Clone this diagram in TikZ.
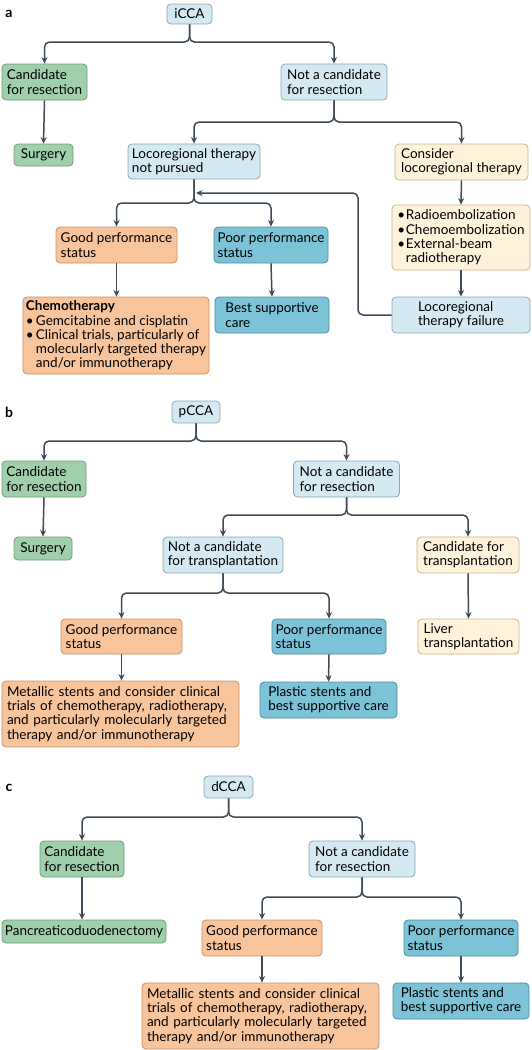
\documentclass[tikz,border=0pt]{standalone}
\usepackage{fontspec}
\setmainfont{Lato}
\usetikzlibrary{arrows.meta}
\definecolor{lbF}{HTML}{D4E9F1}\definecolor{lbD}{HTML}{8FA7B2}
\definecolor{grF}{HTML}{A0CFAB}\definecolor{grD}{HTML}{6F9C7A}
\definecolor{yeF}{HTML}{FEF2DA}\definecolor{yeD}{HTML}{C9B48F}
\definecolor{orF}{HTML}{F8C49B}\definecolor{orD}{HTML}{C7936C}
\definecolor{tbF}{HTML}{7CC3D7}\definecolor{tbD}{HTML}{4E8EA3}
\definecolor{lnC}{HTML}{3D4B57}
\newcommand\bx{\fontsize{13.5pt}{14.3pt}\selectfont}
\newcommand\bul{\makebox[8.5pt][l]{\textbullet}}
\newcommand\ind{\hspace*{8.5pt}}
\newcommand\bulc{\makebox[10pt][l]{\textbullet}}
\newcommand\indc{\hspace*{10pt}}
\tikzset{
  box/.style={rounded corners=4pt, line width=0.8pt, inner xsep=3pt, inner ysep=2pt, align=left, font=\bx, anchor=center},
  lb/.style={box, fill=lbF, draw=lbD},
  gr/.style={box, fill=grF, draw=grD},
  ye/.style={box, fill=yeF, draw=yeD},
  orr/.style={box, fill=orF, draw=orD},
  tb/.style={box, fill=tbF, draw=tbD},
  conn/.style={draw=lnC, line width=1.5pt, rounded corners=5pt, -{Stealth[length=6.5pt,width=6pt]}},
  lab/.style={font=\fontsize{14pt}{15pt}\selectfont\bfseries, anchor=center}
}
\begin{document}
\begin{tikzpicture}[x=1pt,y=-1pt]
\useasboundingbox (0,0) rectangle (531,1050);
% ---------- panel a
\node[lab] (la) at (9,14) {a};
\node[lb, minimum width=45pt, minimum height=20pt] (icca) at (189.5,14) {iCCA};
\node[gr, minimum width=85pt, minimum height=36pt] (ca1) at (44.5,82) {Candidate\\for resection};
\node[gr, minimum width=59pt, minimum height=22pt] (su1) at (43.5,155) {Surgery};
\node[lb, minimum width=106pt, minimum height=36pt] (nc1) at (334,82) {Not a candidate\\for resection};
\node[lb, minimum width=132pt, minimum height=35pt] (np1) at (194,161.5) {Locoregional therapy\\not pursued};
\node[ye, minimum width=133pt, minimum height=36pt] (cl1) at (461.5,162) {Consider\\locoregional therapy};
\node[ye, minimum width=138pt, minimum height=65pt] (rb1) at (461,237.5) {\bul Radioembolization\\\bul Chemoembolization\\\bul External-beam\\\ind radiotherapy};
\node[lb, minimum width=138pt, minimum height=36pt] (lf1) at (461,315) {Locoregional\\therapy failure};
\node[orr, minimum width=121pt, minimum height=36pt] (gp1) at (116.5,245) {Good performance\\status};
\node[tb, minimum width=114pt, minimum height=36pt] (pp1) at (271,245) {Poor performance\\status};
\node[orr, minimum width=186pt, minimum height=77pt] (ch1) at (116,335.5) {\textbf{Chemotherapy}\\\bulc Gemcitabine and cisplatin\\\bulc Clinical trials, particularly of\\\indc molecularly targeted therapy\\\indc and/or immunotherapy};
\node[tb, minimum width=114pt, minimum height=36pt] (bs1) at (272,315) {Best supportive\\care};
\coordinate (ja1) at (189.5,42);
\coordinate (ja2) at (334,122);
\coordinate (ja3) at (194,203);
\coordinate (fbc) at (358,193);
\coordinate (fbt) at (196,193);
\draw[conn] (icca.south) -- (ja1) -| (ca1.north);
\draw[conn] (icca.south) -- (ja1) -| (nc1.north);
\draw[conn] (ca1.south) -- (su1.north);
\draw[conn] (nc1.south) -- (ja2) -| (np1.north);
\draw[conn] (nc1.south) -- (ja2) -| (cl1.north);
\draw[conn] (cl1.south) -- (rb1.north);
\draw[conn] (rb1.south) -- (lf1.north);
\draw[conn] (lf1.west) -| (fbc) -- (fbt);
\draw[conn] (np1.south) -- (ja3) -| (gp1.north);
\draw[conn] (np1.south) -- (ja3) -| (pp1.north);
\draw[conn] (gp1.south) -- (gp1.south |- ch1.north);
\draw[conn] (pp1.south) -- (bs1.north);
% ---------- panel b
\node[lab] (lbb) at (9,412) {b};
\node[lb, minimum width=48pt, minimum height=22pt] (pcca) at (196,412) {pCCA};
\node[gr, minimum width=84pt, minimum height=36pt] (ca2) at (44,479) {Candidate\\for resection};
\node[gr, minimum width=58pt, minimum height=23pt] (su2) at (43,548.5) {Surgery};
\node[lb, minimum width=106pt, minimum height=36pt] (nc2) at (346.5,479) {Not a candidate\\for resection};
\node[lb, minimum width=120pt, minimum height=36pt] (nt2) at (223,555) {Not a candidate\\for transplantation};
\node[ye, minimum width=102pt, minimum height=36pt] (ct2) at (468,555) {Candidate for\\transplantation};
\node[orr, minimum width=121pt, minimum height=35pt] (gp2) at (121.5,636.5) {Good performance\\status};
\node[tb, minimum width=114pt, minimum height=35pt] (pp2) at (329,636.5) {Poor performance\\status};
\node[ye, minimum width=101pt, minimum height=35pt] (lt2) at (468.5,636.5) {Liver\\transplantation};
\node[orr, text width=227pt, inner xsep=5pt, minimum height=66pt] (ms2) at (120.5,714) {Metallic stents and consider clinical\\trials of chemotherapy, radiotherapy,\\and particularly molecularly targeted\\therapy and/or immunotherapy};
\node[tb, minimum width=137pt, minimum height=36pt] (ps2) at (328.5,700) {Plastic stents and\\best supportive care};
\coordinate (jb1) at (196,441);
\coordinate (jb2) at (346.5,515);
\coordinate (jb3) at (223,593);
\draw[conn] (pcca.south) -- (jb1) -| (ca2.north);
\draw[conn] (pcca.south) -- (jb1) -| (nc2.north);
\draw[conn] (ca2.south) -- (su2.north);
\draw[conn] (nc2.south) -- (jb2) -| (nt2.north);
\draw[conn] (nc2.south) -- (jb2) -| (ct2.north);
\draw[conn] (ct2.south) -- (lt2.north);
\draw[conn] (nt2.south) -- (jb3) -| (gp2.north);
\draw[conn] (nt2.south) -- (jb3) -| (pp2.north);
\draw[conn] (gp2.south) -- (gp2.south |- ms2.north);
\draw[conn] (pp2.south) -- (ps2.north);
% ---------- panel c
\node[lab] (lcc) at (9,788) {c};
\node[lb, minimum width=49pt, minimum height=22pt] (dcca) at (228.5,787) {dCCA};
\node[gr, minimum width=84pt, minimum height=36pt] (ca3) at (82,859) {Candidate\\for resection};
\node[lb, minimum width=106pt, minimum height=36pt] (nc3) at (362,859) {Not a candidate\\for resection};
\node[gr, minimum width=164pt, minimum height=23pt, inner xsep=2pt] (pd3) at (84,931.5) {Pancreaticoduodenectomy};
\node[orr, minimum width=120pt, minimum height=36pt] (gp3) at (262,938) {Good performance\\status};
\node[tb, minimum width=114pt, minimum height=36pt] (pp3) at (461,938) {Poor performance\\status};
\node[orr, text width=227pt, inner xsep=5pt, minimum height=66pt] (ms3) at (260.5,1016) {Metallic stents and consider clinical\\trials of chemotherapy, radiotherapy,\\and particularly molecularly targeted\\therapy and/or immunotherapy};
\node[tb, minimum width=136pt, minimum height=36pt] (ps3) at (461,1001) {Plastic stents and\\best supportive care};
\coordinate (jc1) at (228.5,817);
\coordinate (jc2) at (362,897);
\draw[conn] (dcca.south) -- (jc1) -| (ca3.north);
\draw[conn] (dcca.south) -- (jc1) -| (nc3.north);
\draw[conn] (ca3.south) -- (ca3.south |- pd3.north);
\draw[conn] (nc3.south) -- (jc2) -| (gp3.north);
\draw[conn] (nc3.south) -- (jc2) -| (pp3.north);
\draw[conn] (gp3.south) -- (gp3.south |- ms3.north);
\draw[conn] (pp3.south) -- (ps3.north);
\end{tikzpicture}
\end{document}
